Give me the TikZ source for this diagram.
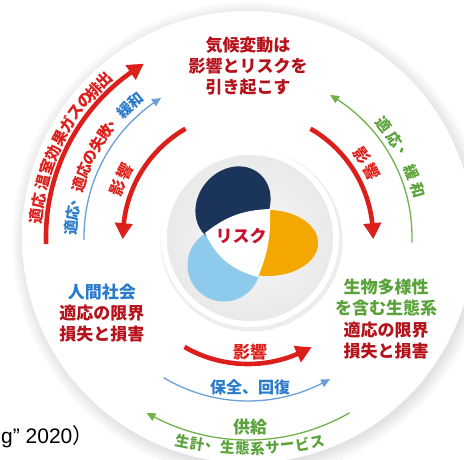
\documentclass[tikz,border=0pt]{standalone}
\usepackage{fontspec}
\setmainfont{Liberation Sans}
\newfontfamily\jp{Noto Sans CJK JP}
\usetikzlibrary{arrows.meta,bending}
\definecolor{cDRed}{HTML}{B5121B}
\definecolor{cRed}{HTML}{DC1F1A}
\definecolor{cRisk}{HTML}{C8102E}
\definecolor{cBlueT}{HTML}{2B7BCB}
\definecolor{cBlueL}{HTML}{6A9FD8}
\definecolor{cGreenT}{HTML}{5AA33A}
\definecolor{cGreenL}{HTML}{72B04A}
\definecolor{cNavy}{HTML}{1B345A}
\definecolor{cOrange}{HTML}{F4A700}
\definecolor{cSky}{HTML}{8DCAEC}
\pgfdeclareradialshading{diskshade}{\pgfpoint{0bp}{0bp}}{color(0bp)=(white); color(40bp)=(white); color(50bp)=(black!8)}
\pgfdeclareradialshading{innershade}{\pgfpoint{0bp}{0bp}}{color(0bp)=(white!97!black); color(28bp)=(white!91!black); color(50bp)=(black!26)}
\newcommand\arcstr[6]{%
  \foreach \ch/\ang [count=\n] in {#6}{%
    \node[#1, rotate=\ang#4] (#5-\n) at ([shift={(\ang:#3)}]#2) {\ch};}}
\begin{document}
\begin{tikzpicture}[x=1pt,y=1pt,
  jp/.style={inner sep=0pt, font={\jp\bfseries\fontsize{#1}{#1}\selectfont}},
  block/.style={inner sep=0pt, align=center, font={\jp\bfseries\fontsize{17}{21.3}\selectfont}},
  redarc/.style={draw=cRed, line width=4.6pt, -{Triangle[length=16pt,width=17pt,bend]}},
  bluearc/.style={draw=cBlueL, line width=1.3pt, -{Triangle[length=9pt,width=8pt,bend]}},
  greenarc/.style={draw=cGreenL, line width=1.3pt, -{Triangle[length=9pt,width=8pt,bend]}}]
\fill[white] (0,0) rectangle (464,459);
\useasboundingbox (0,0) rectangle (464,459);
\coordinate (C) at (248,222);
\coordinate (IC) at (250,221);
\coordinate (CB) at (250,350.5);
% big disk
\foreach \rr in {226pt,228pt,230pt,232pt,234pt,236pt,238pt}
  \fill[black,opacity=0.016] ([shift={(2pt,-3pt)}]C) circle[radius=\rr];
\shade[shading=diskshade] (C) circle[radius=226pt];
% inner disk
\fill[black,opacity=0.07] ([shift={(1.5pt,-2.5pt)}]IC) circle[radius=91pt];
\fill[white] (IC) circle[radius=89pt];
\shade[shading=innershade] (IC) circle[radius=83pt];
% petals
\coordinate (og) at (268,216);
\coordinate (sk) at (224,194);
\coordinate (nv) at (233,254);
\fill[cOrange] (og) circle[x radius=50pt, y radius=33pt];
\fill[cSky] (sk) circle[radius=36.5pt];
\fill[cNavy] (nv) circle[x radius=41pt, y radius=35pt, rotate=50];
\coordinate (vL) at (205,226);
\coordinate (vT) at (270,250);
\coordinate (vB) at (258,182);
\fill[white] (vL) to[bend left=18] (vT) to[bend left=12] (vB) to[bend left=25] (vL) -- cycle;
\node[jp=17, text=cRisk] (risk) at (241,223) {リスク};
% arcs
\coordinate (lo1) at ([shift={(182:202pt)}]C);
\draw[redarc] (lo1) arc[start angle=182, end angle=121, radius=202pt];
\coordinate (lb1) at ([shift={(181:164pt)}]C);
\draw[bluearc] (lb1) arc[start angle=181, end angle=122, radius=164pt];
\coordinate (li1) at ([shift={(120:125pt)}]C);
\draw[redarc] (li1) arc[start angle=120, end angle=181, radius=125pt];
\coordinate (ri1) at ([shift={(60:125pt)}]C);
\draw[redarc] (ri1) arc[start angle=60, end angle=-1, radius=125pt];
\coordinate (rg1) at ([shift={(-2:164pt)}]C);
\draw[greenarc] (rg1) arc[start angle=-2, end angle=60, radius=164pt];
\coordinate (br1) at ([shift={(240:127pt)}]C);
\draw[redarc] (br1) arc[start angle=240, end angle=300, radius=127pt];
\coordinate (bb1) at ([shift={(239:164pt)}]C);
\draw[bluearc] (bb1) arc[start angle=239, end angle=300, radius=164pt];
\coordinate (bg1) at ([shift={(300:203pt)}]C);
\draw[greenarc] (bg1) arc[start angle=300, end angle=240, radius=203pt];
% arc texts
\arcstr{jp=15.5, text=cRed}{C}{212.5pt}{-90}{ot}{適/174.5,応/170.3,温/165,室/160.8,効/156.6,果/152.4,ガ/148.2,ス/144,の/140,排/136.4,出/132.4}
\arcstr{jp=15, text=cBlueT}{C}{177pt}{-90}{bt}{適/177,応/172.25,、/167.5}
\arcstr{jp=15, text=cRed}{C}{177pt}{-90}{mt}{適/162.75,応/158,の/153.25,失/148.5,敗/143.75,、/139}
\arcstr{jp=15, text=cBlueT}{C}{177pt}{-90}{kt}{緩/134.25,和/129.5}
\arcstr{jp=16, text=cRed}{C}{139.5pt}{-90}{li}{影/159.5,響/152}
\arcstr{jp=16, text=cRed}{C}{139.5pt}{-90}{ri}{影/35.5,響/28}
\arcstr{jp=15, text=cGreenT}{C}{176pt}{-90}{gt}{適/39.5,応/33.5,、/27.8,緩/21.5,和/15.5}
\arcstr{jp=14.5, text=cGreenT}{CB}{340pt}{+90}{st}{生/258.6,計/261.14,、/263.67,生/266.2,態/268.73,系/271.27,サ/273.8,ー/276.33,ビ/278.86,ス/281.4}
% blocks
\node[block, text=cDRed] (top) at (248,393) {気候変動は\\影響とリスクを\\引き起こす};
\node[block, text=cDRed] (hum) at (102,146) {\textcolor{cBlueT}{人間社会}\\適応の限界\\損失と損害};
\node[block, text=cDRed] (eco) at (386,140) {\textcolor{cGreenT}{生物多様性}\\\textcolor{cGreenT}{を含む生態系}\\適応の限界\\損失と損害};
\node[jp=17, text=cRed] (bimp) at (250,107) {影響};
\node[jp=16, text=cBlueT] (bcons) at (250,72) {保全、回復};
\node[jp=17, text=cGreenT] (bsup) at (250,32) {供給};
% caption fragment
\node[anchor=base west, inner sep=0pt, font=\fontsize{21}{21}\selectfont] (cap) at (1,16) {g” 2020{\jp ）}};
\end{tikzpicture}
\end{document}
